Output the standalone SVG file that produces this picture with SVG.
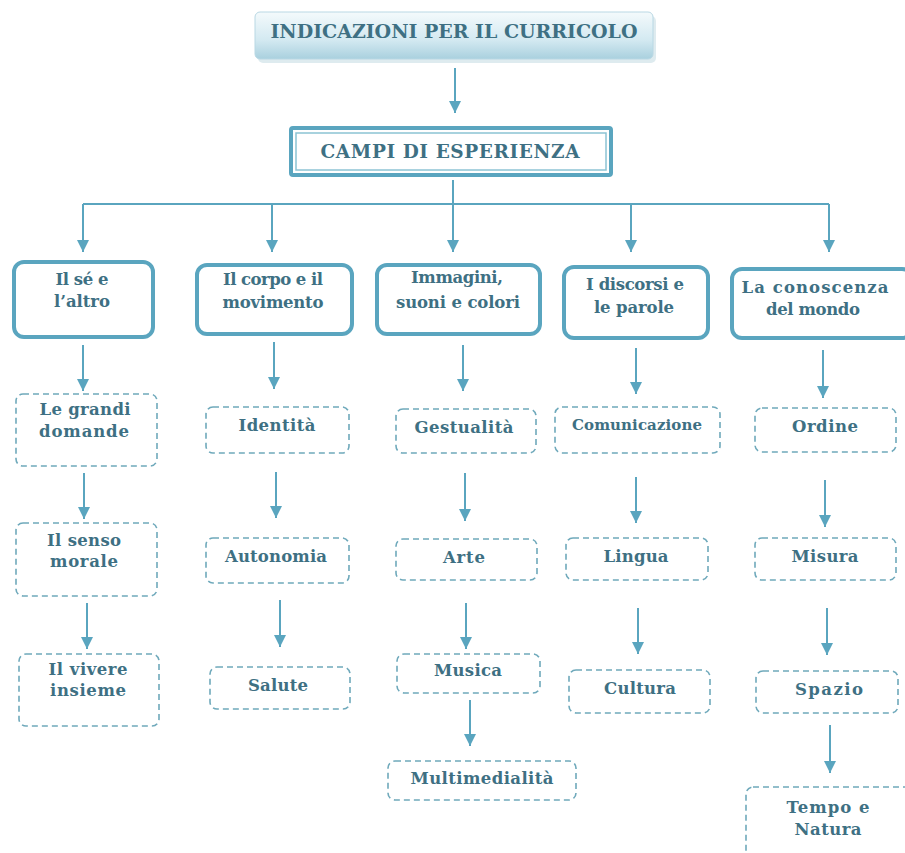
<svg xmlns="http://www.w3.org/2000/svg" width="905" height="853" viewBox="0 0 905 853">
<defs>
<linearGradient id="topg" x1="0" y1="0" x2="0" y2="1">
<stop offset="0" stop-color="#f4fafc"/>
<stop offset="0.6" stop-color="#d3e9f1"/>
<stop offset="1" stop-color="#a9d0de"/>
</linearGradient>
<marker id="ahd" viewBox="0 0 10 10" refX="10" refY="5" markerWidth="6" markerHeight="6" orient="auto" markerUnits="strokeWidth">
<path d="M0,0 L10,5 L0,10 Z" fill="#5aa5bf"/>
</marker>
</defs>
<style>
text{font-family:"DejaVu Serif","Liberation Serif",serif;font-weight:bold;fill:#3e7083;text-anchor:middle;}
.t{font-size:16.5px;}
.s{font-size:15px;}
.cat{fill:#fff;stroke:#5aa5bf;stroke-width:4;}
.sub{fill:#fff;stroke:#6fa9bb;stroke-width:1.6;stroke-dasharray:6 4;}
.c{fill:none;stroke:#5aa5bf;stroke-width:2;}
.a{fill:none;stroke:#5aa5bf;stroke-width:2;marker-end:url(#ahd);}
</style>
<rect width="905" height="853" fill="#fff"/>

<g id="connectors">
<path class="a" d="M455,68 V113"/>
<path class="c" d="M453,180 V204"/>
<path class="c" d="M83,204 H829"/>
<path class="a" d="M83,204 V252"/>
<path class="a" d="M272,204 V252"/>
<path class="a" d="M453,204 V252"/>
<path class="a" d="M631,204 V252"/>
<path class="a" d="M829,204 V252"/>
<path class="a" d="M83,345 V391"/>
<path class="a" d="M274,342 V389"/>
<path class="a" d="M463,345 V391"/>
<path class="a" d="M636,348 V394"/>
<path class="a" d="M823,350 V398"/>
<path class="a" d="M84,473 V519"/>
<path class="a" d="M87,603 V649"/>
<path class="a" d="M276,472 V518"/>
<path class="a" d="M280,600 V647"/>
<path class="a" d="M465,473 V521"/>
<path class="a" d="M466,603 V649"/>
<path class="a" d="M470,700 V746"/>
<path class="a" d="M636,477 V523"/>
<path class="a" d="M638,608 V654"/>
<path class="a" d="M825,480 V527"/>
<path class="a" d="M827,608 V655"/>
<path class="a" d="M830,725 V773"/>
</g>

<g id="indicazioni">
<rect x="257" y="14" width="398" height="47" rx="5" fill="#c8dde5" opacity="0.6" transform="translate(1,2)"/>
<rect x="255" y="12" width="398" height="47" rx="5" fill="url(#topg)" stroke="#b9d8e4" stroke-width="1"/>
<text x="454" y="38" style="font-size:19px" textLength="367">INDICAZIONI PER IL CURRICOLO</text>
</g>

<g id="campi">
<rect x="291" y="128" width="320" height="47" rx="2" fill="#fff" stroke="#5aa5bf" stroke-width="4"/>
<rect x="296" y="133" width="310" height="37" fill="none" stroke="#8cc3d4" stroke-width="1.5"/>
<text x="450" y="158" style="font-size:18.5px" textLength="259">CAMPI DI  ESPERIENZA</text>
</g>

<g id="se-altro">
<rect class="cat" x="14" y="262" width="139" height="75" rx="10"/>
<text class="t" x="82" y="285" textLength="53">Il sé e</text>
<text class="t" x="82" y="307" textLength="56">l’altro</text>
</g>
<g id="corpo">
<rect class="cat" x="197" y="265" width="155" height="69" rx="10"/>
<text class="t" x="273" y="285" textLength="100">Il corpo e il</text>
<text class="t" x="273" y="308" textLength="101">movimento</text>
</g>
<g id="immagini">
<rect class="cat" x="377" y="265" width="163" height="69" rx="10"/>
<text class="t" x="457" y="283" textLength="92">Immagini,</text>
<text class="t" x="458" y="308" textLength="124">suoni e colori</text>
</g>
<g id="discorsi">
<rect class="cat" x="564" y="267" width="144" height="71" rx="10"/>
<text class="t" x="635" y="290" textLength="98">I discorsi e</text>
<text class="t" x="634" y="313" textLength="80">le parole</text>
</g>
<g id="conoscenza">
<rect class="cat" x="732" y="269" width="180" height="69" rx="10"/>
<text class="t" x="815" y="293" textLength="147">La  conoscenza</text>
<text class="t" x="813" y="315" textLength="94">del mondo</text>
</g>

<g id="grandi-domande">
<rect class="sub" x="16" y="394" width="141" height="72" rx="7"/>
<text class="t" x="85" y="415" textLength="91">Le grandi</text>
<text class="t" x="84" y="437" textLength="90">domande</text>
</g>
<g id="senso-morale">
<rect class="sub" x="16" y="523" width="141" height="73" rx="7"/>
<text class="t" x="84" y="546" textLength="74">Il senso</text>
<text class="t" x="84" y="567" textLength="68">morale</text>
</g>
<g id="vivere-insieme">
<rect class="sub" x="19" y="654" width="140" height="72" rx="7"/>
<text class="t" x="88" y="675" textLength="79">Il vivere</text>
<text class="t" x="88" y="696" textLength="76">insieme</text>
</g>

<g id="identita">
<rect class="sub" x="206" y="407" width="143" height="46" rx="7"/>
<text class="t" x="277" y="431" textLength="77">Identità</text>
</g>
<g id="autonomia">
<rect class="sub" x="206" y="538" width="143" height="45" rx="7"/>
<text class="t" x="276" y="562" textLength="102">Autonomia</text>
</g>
<g id="salute">
<rect class="sub" x="210" y="667" width="140" height="42" rx="7"/>
<text class="t" x="278" y="691" textLength="60">Salute</text>
</g>

<g id="gestualita">
<rect class="sub" x="396" y="409" width="140" height="44" rx="7"/>
<text class="t" x="464" y="433" textLength="99">Gestualità</text>
</g>
<g id="arte">
<rect class="sub" x="396" y="539" width="141" height="41" rx="7"/>
<text class="t" x="464" y="563" textLength="42">Arte</text>
</g>
<g id="musica">
<rect class="sub" x="397" y="654" width="143" height="39" rx="7"/>
<text class="t" x="468" y="676" textLength="68">Musica</text>
</g>
<g id="multimedialita">
<rect class="sub" x="388" y="761" width="188" height="39" rx="7"/>
<text class="t" x="482" y="784" textLength="143">Multimedialità</text>
</g>

<g id="comunicazione">
<rect class="sub" x="555" y="407" width="165" height="46" rx="7"/>
<text class="s" x="637" y="430" textLength="130">Comunicazione</text>
</g>
<g id="lingua">
<rect class="sub" x="566" y="538" width="142" height="42" rx="7"/>
<text class="t" x="636" y="562" textLength="65">Lingua</text>
</g>
<g id="cultura">
<rect class="sub" x="569" y="670" width="141" height="43" rx="7"/>
<text class="t" x="640" y="694" textLength="72">Cultura</text>
</g>

<g id="ordine">
<rect class="sub" x="755" y="408" width="141" height="44" rx="7"/>
<text class="t" x="825" y="432" textLength="66">Ordine</text>
</g>
<g id="misura">
<rect class="sub" x="755" y="538" width="141" height="42" rx="7"/>
<text class="t" x="825" y="562" textLength="67">Misura</text>
</g>
<g id="spazio">
<rect class="sub" x="756" y="671" width="142" height="42" rx="7"/>
<text class="t" x="829" y="695" textLength="68">Spazio</text>
</g>
<g id="tempo-natura">
<rect class="sub" x="746" y="787" width="170" height="80" rx="7"/>
<text class="t" x="828" y="813" textLength="83">Tempo e</text>
<text class="t" x="828" y="835" textLength="67">Natura</text>
</g>
</svg>
